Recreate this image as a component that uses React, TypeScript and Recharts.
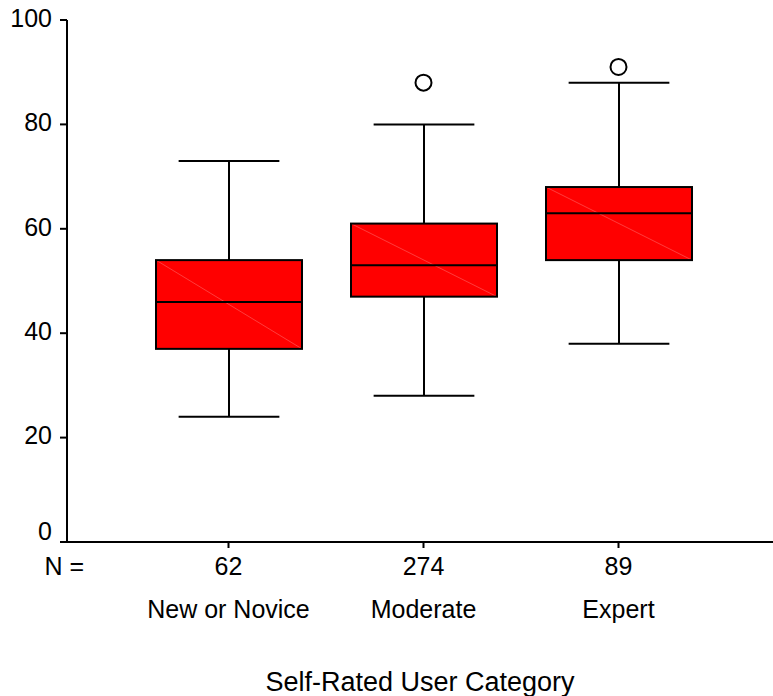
import React from 'react';
import { ComposedChart, Bar, Scatter, XAxis, YAxis, Label } from 'recharts';

// box plot values
const categories = ['New or Novice', 'Moderate', 'Expert'];
const counts = [62, 274, 89];
const whiskerLow = [24, 28, 38];
const q1 = [37, 47, 54];
const median = [46, 53, 63];
const q3 = [54, 61, 68];
const whiskerHigh = [73, 80, 88];
const outliers: (number | null)[] = [null, 88, 91];
const yTicks = [0, 20, 40, 60, 80, 100];

const FONT = '"Liberation Sans", Arial, sans-serif';

const data = categories.map((name, i) => ({
  name,
  n: counts[i],
  base: whiskerLow[i],
  lowSpan: q1[i] - whiskerLow[i],
  box: q3[i] - q1[i],
  highSpan: whiskerHigh[i] - q3[i],
  q1: q1[i],
  q3: q3[i],
  median: median[i],
  outlier: outliers[i],
}));

const LowWhisker = (props: any) => {
  const { x, y, width, height } = props;
  const cx = x + width / 2;
  const cap = width * 0.345;
  return (
    <g>
      <line x1={cx} x2={cx} y1={y} y2={y + height} stroke="#000" strokeWidth={2} />
      <line x1={cx - cap} x2={cx + cap} y1={y + height} y2={y + height} stroke="#000" strokeWidth={2} />
    </g>
  );
};

const HighWhisker = (props: any) => {
  const { x, y, width, height } = props;
  const cx = x + width / 2;
  const cap = width * 0.345;
  return (
    <g>
      <line x1={cx} x2={cx} y1={y} y2={y + height} stroke="#000" strokeWidth={2} />
      <line x1={cx - cap} x2={cx + cap} y1={y} y2={y} stroke="#000" strokeWidth={2} />
    </g>
  );
};

const BoxShape = (props: any) => {
  const { x, y, width, height, payload } = props;
  // median sits proportionally between q3 (top) and q1 (bottom)
  const my = y + (height * (payload.q3 - payload.median)) / (payload.q3 - payload.q1);
  return (
    <g>
      <rect x={x} y={y} width={width} height={height} fill="#ff0000" />
      <line x1={x} y1={y} x2={x + width} y2={y + height} stroke="#ff3c3c" strokeWidth={1} />
      <rect x={x} y={y} width={width} height={height} fill="none" stroke="#000" strokeWidth={2} />
      <line x1={x} x2={x + width} y1={my} y2={my} stroke="#000" strokeWidth={2} />
    </g>
  );
};

const OutlierShape = (props: any) => {
  const { cx, cy, payload } = props;
  if (payload == null || payload.outlier == null || !isFinite(cy)) return <g />;
  return <circle cx={cx} cy={cy} r={8} fill="#fff" stroke="#000" strokeWidth={2} />;
};

const CategoryTick = (props: any) => {
  const { x, y, payload, index } = props;
  return (
    <g>
      <text x={x} y={y} dy={27} textAnchor="middle" fontSize={25} fontFamily={FONT} fill="#000">
        {counts[index]}
      </text>
      <text x={x} y={y} dy={70} textAnchor="middle" fontSize={25} fontFamily={FONT} fill="#000">
        {payload.value}
      </text>
    </g>
  );
};

// SPSS lifts the tick labels a little, the zero label more so
const ValueTick = (props: any) => {
  const { x, y, payload } = props;
  const lift = payload.value === 0 ? 11 : 2;
  return (
    <text x={x} y={y - lift} dy="0.355em" textAnchor="end" fontSize={25} fontFamily={FONT} fill="#000">
      {payload.value}
    </text>
  );
};

export default function App() {
  return (
    <div style={{ position: 'absolute', left: 0, top: 0, background: '#fff' }}>
      <ComposedChart
        width={773}
        height={696}
        data={data}
        margin={{ top: 20, right: 0, bottom: 0, left: 0 }}
        barCategoryGap={0}
        barGap={0}
      >
        <XAxis
          dataKey="name"
          type="category"
          height={154}
          padding={{ left: 64, right: 57 }}
          axisLine={{ stroke: '#000', strokeWidth: 2 }}
          tickLine={{ stroke: '#000', strokeWidth: 2 }}
          tickSize={6}
          tickMargin={0}
          tick={<CategoryTick />}
          interval={0}
        >
          <Label
            content={({ viewBox }: any) => (
              <text x={viewBox.x + 17} y={viewBox.y + 33} textAnchor="end" fontSize={25} fontFamily={FONT} fill="#000">
                N =
              </text>
            )}
          />
          <Label
            content={({ viewBox }: any) => (
              <text
                x={viewBox.x + viewBox.width / 2}
                y={viewBox.y + 149}
                textAnchor="middle"
                fontSize={27}
                fontFamily={FONT}
                fill="#000"
              >
                Self-Rated User Category
              </text>
            )}
          />
        </XAxis>
        <YAxis
          type="number"
          domain={[0, 100]}
          ticks={yTicks}
          width={67}
          axisLine={{ stroke: '#000', strokeWidth: 2 }}
          tickLine={{ stroke: '#000', strokeWidth: 2 }}
          tickSize={7}
          tickMargin={8}
          tick={<ValueTick />}
          allowDataOverflow
        />
        <Bar dataKey="base" stackId="b" fill="transparent" barSize={146} isAnimationActive={false} />
        <Bar dataKey="lowSpan" stackId="b" barSize={146} shape={<LowWhisker />} isAnimationActive={false} />
        <Bar dataKey="box" stackId="b" barSize={146} shape={<BoxShape />} isAnimationActive={false} />
        <Bar dataKey="highSpan" stackId="b" barSize={146} shape={<HighWhisker />} isAnimationActive={false} />
        <Scatter dataKey="outlier" shape={<OutlierShape />} isAnimationActive={false} />
      </ComposedChart>
    </div>
  );
}
